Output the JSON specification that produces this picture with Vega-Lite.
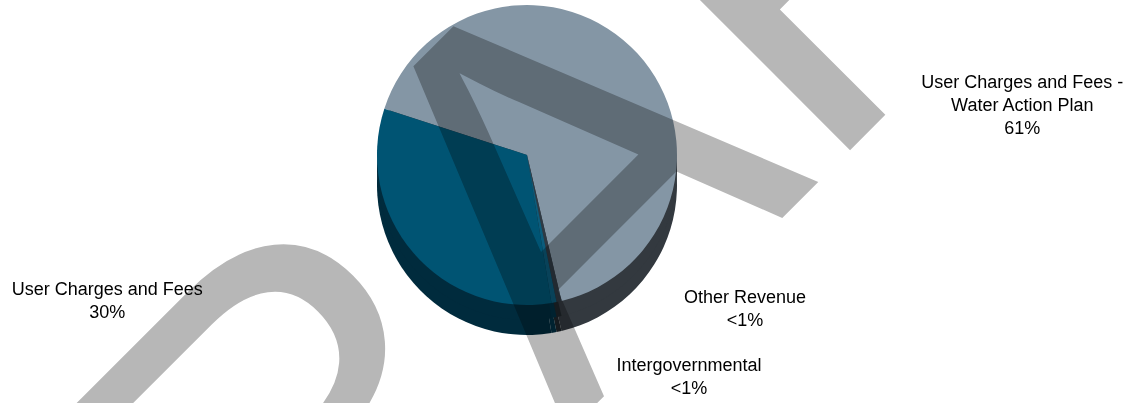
{
  "$schema": "https://vega.github.io/schema/vega-lite/v6.json",
  "autosize": {"type": "none"},
  "width": 1054,
  "height": 310,
  "padding": {"left": 0, "top": 0, "right": 89, "bottom": 93},
  "background": "white",
  "config": {"view": {"stroke": null}, "font": "Liberation Sans"},
  "data": {"values": [
    {"name": "User Charges and Fees - Water Action Plan", "value": 61, "order": 1, "label": "User Charges and Fees -\nWater Action Plan\n61%"},
    {"name": "Other Revenue", "value": 0.5, "order": 2, "label": "Other Revenue\n<1%"},
    {"name": "Intergovernmental", "value": 0.5, "order": 3, "label": "Intergovernmental\n<1%"},
    {"name": "User Charges and Fees", "value": 30, "order": 4, "label": "User Charges and Fees\n30%"}
  ]},
  "layer": [
    {
      "mark": {"type": "arc", "radius": 150, "yOffset": 30},
      "encoding": {
        "theta": {"field": "value", "type": "quantitative", "stack": true, "scale": {"range": [5.0265, 11.3097]}},
        "order": {"field": "order"},
        "fill": {"field": "name", "type": "nominal", "legend": null,
          "scale": {"domain": ["User Charges and Fees - Water Action Plan", "Other Revenue", "Intergovernmental", "User Charges and Fees"],
                    "range": ["#33393F", "#1E252B", "#002F42", "#002B3D"]}}
      }
    },
    {
      "mark": {"type": "arc", "radius": 150, "yOffset": 15},
      "encoding": {
        "theta": {"field": "value", "type": "quantitative", "stack": true},
        "order": {"field": "order"},
        "fill": {"field": "name", "type": "nominal", "legend": null}
      }
    },
    {
      "mark": {"type": "arc", "radius": 150},
      "encoding": {
        "theta": {"field": "value", "type": "quantitative", "stack": true},
        "order": {"field": "order"},
        "color": {"field": "name", "type": "nominal", "legend": null,
          "scale": {"domain": ["User Charges and Fees - Water Action Plan", "Other Revenue", "Intergovernmental", "User Charges and Fees"],
                    "range": ["#8496A5", "#2F3A44", "#0B5C7C", "#005473"]}}
      }
    },
    {
      "data": {"values": [{"w": "DRAFT"}]},
      "mark": {"type": "text", "font": "Liberation Sans", "fontSize": 535, "angle": 315, "align": "center", "baseline": "alphabetic", "dx": -50, "dy": 225, "color": "#B7B7B7", "blend": "multiply"},
      "encoding": {"text": {"field": "w"}}
    },
    {
      "mark": {"type": "text", "radius": 150, "dx": 385, "dy": 30, "align": "center", "baseline": "middle", "fontSize": 18, "lineBreak": "\n", "lineHeight": 23, "color": "black"},
      "encoding": {
        "theta": {"field": "value", "type": "quantitative", "stack": true},
        "order": {"field": "order"},
        "text": {"condition": {"test": "datum.name === 'User Charges and Fees - Water Action Plan'", "field": "label"}, "value": ""}
      }
    },
    {
      "mark": {"type": "text", "radius": 150, "dx": 186, "dy": -4, "align": "center", "baseline": "middle", "fontSize": 18, "lineBreak": "\n", "lineHeight": 23, "color": "black"},
      "encoding": {
        "theta": {"field": "value", "type": "quantitative", "stack": true},
        "order": {"field": "order"},
        "text": {"condition": {"test": "datum.name === 'Other Revenue'", "field": "label"}, "value": ""}
      }
    },
    {
      "mark": {"type": "text", "radius": 150, "dx": 135, "dy": 63, "align": "center", "baseline": "middle", "fontSize": 18, "lineBreak": "\n", "lineHeight": 23, "color": "black"},
      "encoding": {
        "theta": {"field": "value", "type": "quantitative", "stack": true},
        "order": {"field": "order"},
        "text": {"condition": {"test": "datum.name === 'Intergovernmental'", "field": "label"}, "value": ""}
      }
    },
    {
      "mark": {"type": "text", "radius": 150, "dx": -306, "dy": 37, "align": "center", "baseline": "middle", "fontSize": 18, "lineBreak": "\n", "lineHeight": 23, "color": "black"},
      "encoding": {
        "theta": {"field": "value", "type": "quantitative", "stack": true},
        "order": {"field": "order"},
        "text": {"condition": {"test": "datum.name === 'User Charges and Fees'", "field": "label"}, "value": ""}
      }
    }
  ]
}
